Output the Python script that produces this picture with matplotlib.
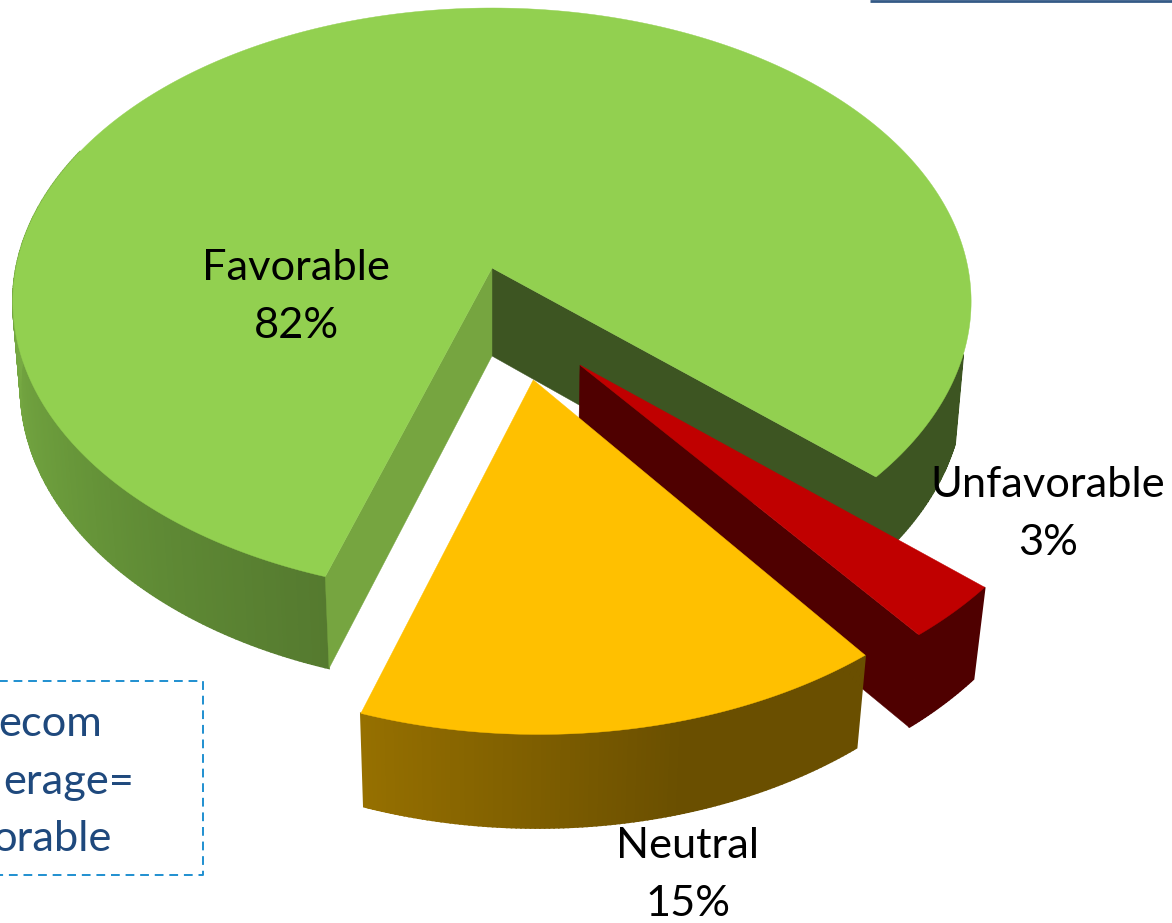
import numpy as np
import matplotlib.pyplot as plt

# slices, clockwise from the right-hand rim
labels = ['Unfavorable', 'Neutral', 'Favorable']
values = [3, 15, 82]
top_colors = ['#C00000', '#FFC000', '#92D050']
inner_colors = ['#4F0000', '#6A4F00', '#3D5522']
explode = [(0.178, 0.323), (0.083, 0.370), (0.0, 0.0)]
radius = [0.99, 0.99, 1.0]
start_angle = 41.5

note_lines = ['ecom', 'erage=', 'orable']

W, H = 1172, 923
CX, CY = 492, 268
SX, SY = 476, 289.7
PERSP = 0.1142
DEPTH = 88


def project(u, v, bottom=False):
    # pie plane to pixels, the v axis points at the viewer
    w = 1 - PERSP * v
    if bottom:
        kx = 0.985 - 0.008 * np.clip(v, 0, 1)
        return CX + kx * SX * u / w, CY + 1.012 * SY * v / w + DEPTH
    return CX + SX * u / w, CY + SY * v / w


def rim(theta, off, r):
    t = np.radians(theta)
    return off[0] + r * np.cos(t), off[1] + r * np.sin(t)


def draw_wall(ax, t0, t1, i, angle_stops, colors, z):
    # outer wall as thin quads so the colour can change along the rim
    stops = np.array([[int(c[k:k + 2], 16) / 255 for k in (1, 3, 5)] for c in colors])
    ts = np.linspace(t0, t1, int(abs(t1 - t0) * 2) + 2)
    for a, b in zip(ts[:-1], ts[1:]):
        ua, va = rim(a, explode[i], radius[i])
        ub, vb = rim(b, explode[i], radius[i])
        p = [project(ua, va), project(ub, vb), project(ub, vb, True), project(ua, va, True)]
        mid = (a + b) / 2
        col = [np.interp(mid, angle_stops, stops[:, k]) for k in range(3)]
        ax.fill(*zip(*p), color=col, lw=1.2, zorder=z)


def draw_side(ax, i, theta, color, z):
    off = explode[i]
    u, v = rim(theta, off, radius[i])
    p = [project(*off), project(u, v), project(u, v, True), project(*off, True)]
    ax.fill(*zip(*p), color=color, lw=0.3, zorder=z)


def draw_top(ax, t0, t1, i, z):
    ts = np.linspace(t0, t1, 300)
    u, v = rim(ts, explode[i], radius[i])
    x, y = project(u, v)
    ox, oy = project(*explode[i])
    ax.fill(np.r_[ox, x], np.r_[oy, y], color=top_colors[i], lw=0.3, zorder=z)


fig = plt.figure(figsize=(W / 100, H / 100), dpi=100)
ax = fig.add_axes([0, 0, 1, 1])
ax.set_xlim(0, W)
ax.set_ylim(H, 0)
ax.axis('off')

sweeps = np.array(values) / sum(values) * 360
edges = start_angle + np.r_[0, np.cumsum(sweeps)]

# Favorable: walls first, then the top face
t0, t1 = edges[2] + 1.9, edges[3] + 0.3
draw_wall(ax, t1 - 360 - 25, t1 - 360 + 1, 2, [-25, 42], ['#3D5522', '#3D5522'], 1)
draw_wall(ax, t0, 205, 2, [t0, 130, 150, 185], ['#557A2F', '#5F8A35', '#6A9A3B', '#7AAE45'], 1)
draw_side(ax, 2, t1, inner_colors[2], 2)
draw_side(ax, 2, t0, '#76A540', 2)
draw_top(ax, t0, t1, 2, 3)

# Unfavorable
t0, t1 = edges[0], edges[1]
draw_side(ax, 0, t1, inner_colors[0], 4)
draw_wall(ax, t0, t1, 0, [t0, t1], [inner_colors[0], inner_colors[0]], 5)
draw_top(ax, t0, t1, 0, 6)

# Neutral
t0, t1 = edges[1] + 0.6, edges[2] + 2.4
draw_wall(ax, t0, t1, 1, [t0, 75, t1], ['#6A4F00', '#6A4F00', '#967000'], 7)
draw_top(ax, t0, t1, 1, 8)

# value labels
font = 'Lato'
fs = 31.2
label_pos = [(1048, 485, 543), (688, 846, 904), (296, 268, 326)]
for name, val, (x, y1, y2) in zip(labels, values, label_pos):
    ax.text(x, y1, name, ha='center', va='center', fontsize=fs, family=font, color='black', zorder=10)
    ax.text(x, y2, f'{val}%', ha='center', va='center', fontsize=fs, family=font, color='black', zorder=10)

# note box running off the left edge
ax.plot([-5, 203, 203, -5], [681, 681, 875, 875], color='#1F8FD0', lw=1.4, ls=(0, (4.5, 3)), zorder=9)
for line, xr, yb in zip(note_lines, [102, 134, 111], [736, 794, 851]):
    ax.text(xr, yb, line, ha='right', va='baseline', fontsize=fs, family=font, color='#1F497D', zorder=10)

# rule along the top edge
ax.plot([870, W], [1, 1], color='#345A86', lw=2, solid_capstyle='butt', zorder=9)

fig.savefig('out.png', dpi=100)
